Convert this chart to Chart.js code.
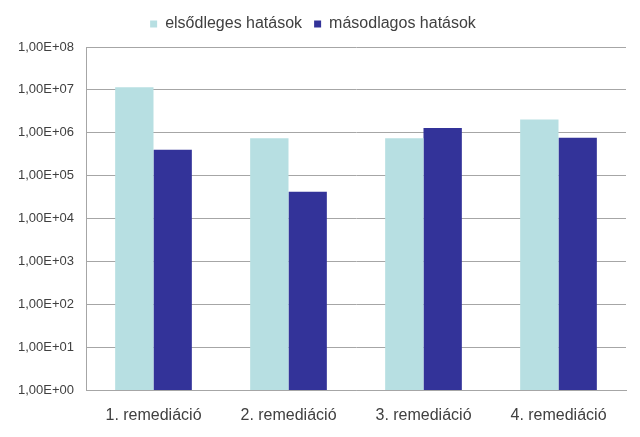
<!DOCTYPE html>
<html>
<head>
<meta charset="utf-8">
<script src="https://cdn.jsdelivr.net/npm/chart.js@4/dist/chart.umd.min.js"></script>
<style>
  html, body { margin: 0; padding: 0; background: #fff; }
  #wrap { width: 640px; height: 437px; }
</style>
</head>
<body>
<div id="wrap"><canvas id="hatasChart"></canvas></div>
<script>
// --- ADATOK ---
const categories = ["1. remediáció", "2. remediáció", "3. remediáció", "4. remediáció"];
const elsodleges = [1.15e7, 7.4e5, 7.4e5, 2.05e6];
const masodlagos = [4.0e5, 4.2e4, 1.29e6, 7.6e5];
const tickValues = [1, 1e1, 1e2, 1e3, 1e4, 1e5, 1e6, 1e7, 1e8];

const TEXT = "#404040";
const GRID = "#a6a6a6";
const FONT = "'Liberation Sans', Arial, sans-serif";

// 1,00E+05 alakú felirat
function sciLabel(v) {
  const exp = Math.round(Math.log10(v));
  const mant = (v / Math.pow(10, exp)).toFixed(2).replace(".", ",");
  return mant + "E" + (exp < 0 ? "-" : "+") + String(Math.abs(exp)).padStart(2, "0");
}

// több hely a jelmagyarázat alatt
const legendGap = {
  id: "legendGap",
  beforeLayout(chart) {
    const lg = chart.legend;
    if (!lg || lg._gapPatched) return;
    const fit = lg.fit;
    lg.fit = function () { fit.call(this); this.height += 5; };
    lg._gapPatched = true;
  }
};

const ctx = document.getElementById("hatasChart").getContext("2d");
new Chart(ctx, {
  type: "bar",
  data: {
    labels: categories,
    datasets: [
      { label: "elsődleges hatások", data: elsodleges, backgroundColor: "#b7dfe2" },
      { label: "másodlagos hatások", data: masodlagos, backgroundColor: "#333399" }
    ]
  },
  options: {
    responsive: true, maintainAspectRatio: false, animation: false,
    layout: { padding: { left: 0, right: 14, top: 4, bottom: 0 } },
    datasets: { bar: { categoryPercentage: 0.568, barPercentage: 1.0 } },
    plugins: {
      tooltip: { enabled: false },
      legend: {
        position: "top",
        labels: { color: TEXT, font: { family: FONT, size: 16 }, boxWidth: 7, boxHeight: 7, padding: 12 }
      }
    },
    scales: {
      x: {
        grid: { display: false },
        border: { display: true, color: GRID },
        ticks: { color: TEXT, font: { family: FONT, size: 16 }, padding: 8, maxRotation: 0 },
        afterFit: s => { s.height = 47; }
      },
      y: {
        type: "logarithmic",
        min: 1, max: 1e8,
        grid: { color: GRID, drawTicks: false },
        border: { display: true, color: GRID },
        afterBuildTicks: s => { s.ticks = tickValues.map(v => ({ value: v })); },
        ticks: { color: TEXT, font: { family: FONT, size: 13 }, padding: 12, callback: v => sciLabel(v) },
        afterFit: s => { s.width = 86; }
      }
    }
  },
  plugins: [legendGap]
});
</script>
</body>
</html>
